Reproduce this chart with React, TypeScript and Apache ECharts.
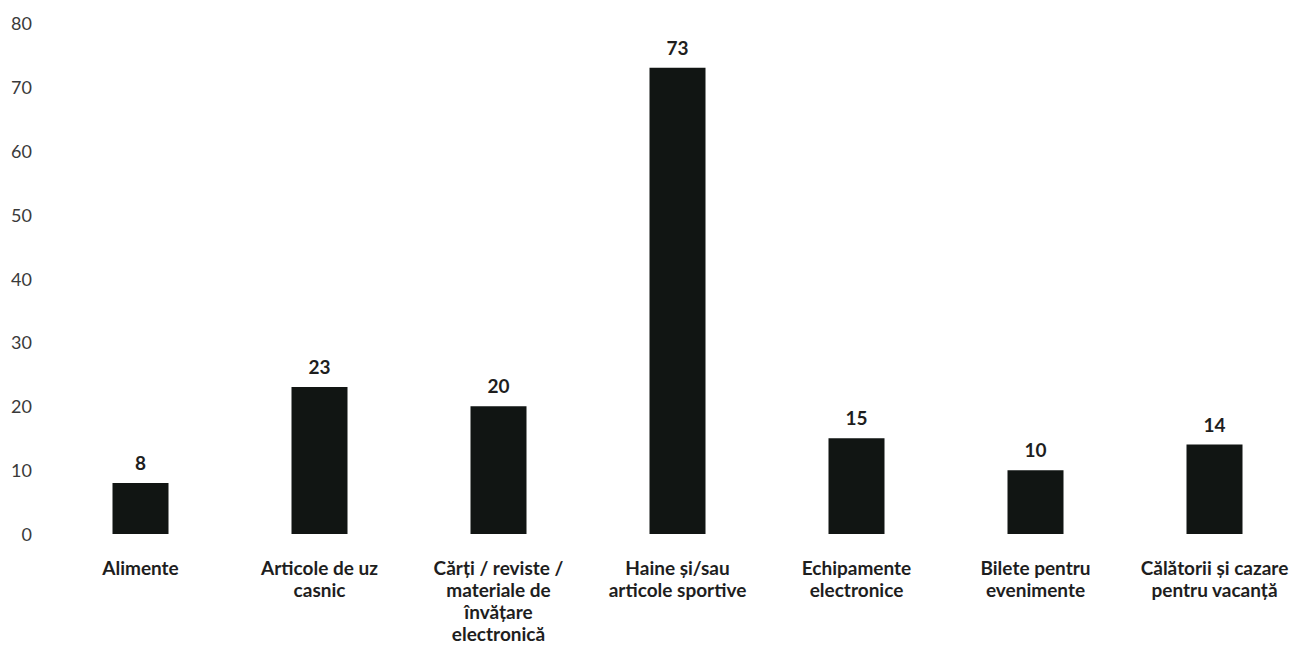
import React, { useEffect, useRef } from "react";
import * as echarts from "echarts";

const categories = [
  "Alimente",
  "Articole de uz\ncasnic",
  "Cărți / reviste /\nmateriale de\nînvățare\nelectronică",
  "Haine și/sau\narticole sportive",
  "Echipamente\nelectronice",
  "Bilete pentru\nevenimente",
  "Călătorii și cazare\npentru vacanță",
];
const values = [8, 23, 20, 73, 15, 10, 14];
const yMin = 0;
const yMax = 80;
const yInterval = 10;

const FONT = "Lato, 'Open Sans', sans-serif";

export default function App() {
  const ref = useRef<HTMLDivElement>(null);
  useEffect(() => {
    if (!ref.current) return;
    const chart = echarts.init(ref.current, null, { renderer: "svg" });
    chart.setOption({
      animation: false,
      backgroundColor: "#ffffff",
      grid: { left: 51, right: 4, top: 23, bottom: 119, containLabel: false },
      xAxis: {
        type: "category",
        data: categories,
        axisLine: { show: false },
        axisTick: { show: false },
        axisLabel: {
          interval: 0,
          margin: 22,
          fontFamily: FONT,
          fontWeight: "bold",
          fontSize: 19,
          lineHeight: 22,
          color: "#1e1e1e",
          align: "center",
        },
      },
      yAxis: {
        type: "value",
        min: yMin,
        max: yMax,
        interval: yInterval,
        axisLine: { show: false },
        axisTick: { show: false },
        splitLine: { show: false },
        axisLabel: {
          margin: 19,
          fontFamily: FONT,
          fontSize: 18,
          color: "#3a3a3a",
        },
      },
      series: [
        {
          type: "bar",
          data: values,
          barWidth: 56,
          itemStyle: { color: "#111513" },
          label: {
            show: true,
            position: "top",
            distance: 11,
            fontFamily: FONT,
            fontWeight: "bold",
            fontSize: 19,
            color: "#1e1e1e",
          },
        },
      ],
    });
    return () => chart.dispose();
  }, []);
  return (
    <div
      ref={ref}
      style={{ position: "fixed", left: 0, top: 0, width: 1308, height: 653 }}
    />
  );
}
